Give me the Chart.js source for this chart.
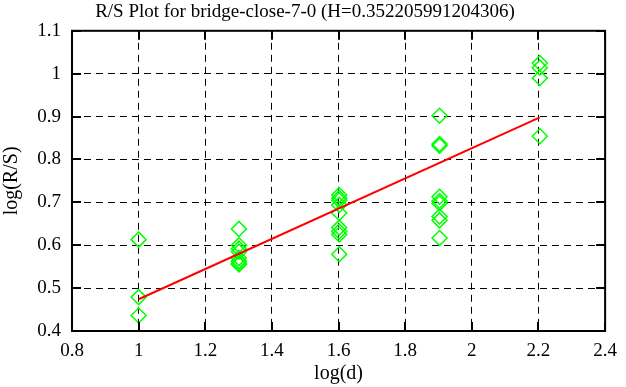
<!DOCTYPE html>
<html>
<head>
<meta charset="utf-8">
<script src="https://cdn.jsdelivr.net/npm/chart.js@4/dist/chart.umd.min.js"></script>
<style>
  html, body { margin: 0; padding: 0; background: #ffffff; }
  #c { display: block; }
</style>
</head>
<body>
<canvas id="c" width="626" height="387"></canvas>
<script>
// log(d) levels (d = 10, 20, 40, 80, 160)
const logD = [1.0, 1.301, 1.602, 1.903, 2.204];
// log(R/S) observations at each level
const rsAt10  = [0.613, 0.479, 0.436];
const rsAt20  = [0.638, 0.600, 0.592, 0.585, 0.570, 0.563, 0.558, 0.555];
const rsAt40  = [0.717, 0.710, 0.705, 0.694, 0.675, 0.641, 0.632, 0.625, 0.579];
const rsAt80  = [0.902, 0.836, 0.832, 0.713, 0.703, 0.698, 0.667, 0.658, 0.617];
const rsAt160 = [1.025, 1.014, 0.990, 0.854];
// fitted line endpoints (H = 0.352205991204306)
const fitX = [1.0, 2.204];
const fitY = [0.474, 0.898];
// tick labels
const xTicks = ['0.8', '1', '1.2', '1.4', '1.6', '1.8', '2', '2.2', '2.4'];
const yTicks = ['0.4', '0.5', '0.6', '0.7', '0.8', '0.9', '1', '1.1'];

const groups = [rsAt10, rsAt20, rsAt40, rsAt80, rsAt160];
const points = [];
groups.forEach((g, i) => g.forEach(v => points.push({ x: logD[i], y: v })));
const fitPts = fitX.map((x, i) => ({ x: x, y: fitY[i] }));

const FONT = '"Liberation Serif", "Times New Roman", serif';

const framePlugin = {
  id: 'frame',
  afterDraw(chart) {
    const ctx = chart.ctx;
    const a = chart.chartArea;
    const xs = chart.scales.x, ys = chart.scales.y;
    ctx.save();
    ctx.strokeStyle = '#000';
    ctx.lineWidth = 2;
    ctx.setLineDash([]);
    const tl = 9;
    ctx.beginPath();
    xs.ticks.forEach(t => {
      const px = Math.round(xs.getPixelForValue(t.value));
      ctx.moveTo(px, a.bottom); ctx.lineTo(px, a.bottom - tl);
      ctx.moveTo(px, a.top); ctx.lineTo(px, a.top + tl);
    });
    ys.ticks.forEach(t => {
      const py = Math.round(ys.getPixelForValue(t.value));
      ctx.moveTo(a.left, py); ctx.lineTo(a.left + tl, py);
      ctx.moveTo(a.right, py); ctx.lineTo(a.right - tl, py);
    });
    ctx.stroke();
    ctx.strokeRect(a.left, a.top, a.right - a.left, a.bottom - a.top);
    ctx.restore();
  }
};

new Chart(document.getElementById('c'), {
  type: 'scatter',
  data: {
    datasets: [
      {
        label: 'R/S',
        data: points,
        showLine: false,
        pointStyle: 'rectRot',
        pointRadius: 7.5,
        pointHoverRadius: 7.5,
        borderColor: '#00ff00',
        backgroundColor: 'rgba(0,0,0,0)',
        pointBorderWidth: 1.5,
        order: 2
      },
      {
        label: 'fit',
        type: 'line',
        data: fitPts,
        borderColor: '#ff0000',
        borderWidth: 2,
        pointRadius: 0,
        fill: false,
        order: 1
      }
    ]
  },
  options: {
    responsive: false,
    animation: false,
    devicePixelRatio: 1,
    layout: { padding: { left: 0, right: 16, top: 0, bottom: 0 } },
    plugins: {
      legend: { display: false },
      tooltip: { enabled: false },
      title: {
        display: true,
        text: 'R/S Plot for bridge-close-7-0 (H=0.352205991204306)',
        color: '#000',
        font: { family: FONT, size: 19, weight: 'normal', lineHeight: 1.2 },
        padding: { top: 1, bottom: 7 }
      }
    },
    scales: {
      x: {
        type: 'linear',
        min: 0.8, max: 2.4,
        afterFit(s) { s.height = 56; },
        ticks: {
          stepSize: 0.2,
          color: '#000',
          padding: 9,
          maxRotation: 0,
          font: { family: FONT, size: 19 },
          callback: (v, i) => xTicks[i]
        },
        grid: { color: '#000', lineWidth: 1, drawTicks: false },
        border: { display: false, dash: [7, 5] },
        title: {
          display: true, text: 'log(d)', color: '#000',
          font: { family: FONT, size: 20 },
          padding: { top: 0, bottom: 1 }
        }
      },
      y: {
        type: 'linear',
        min: 0.4, max: 1.1,
        afterFit(s) { s.width = 72; },
        ticks: {
          stepSize: 0.1,
          color: '#000',
          padding: 11,
          font: { family: FONT, size: 19 },
          callback: (v, i) => yTicks[i]
        },
        grid: { color: '#000', lineWidth: 1, drawTicks: false },
        border: { display: false, dash: [7, 5] },
        title: {
          display: true, text: 'log(R/S)', color: '#000',
          font: { family: FONT, size: 20 },
          padding: { top: 0, bottom: 0 }
        }
      }
    }
  },
  plugins: [framePlugin, {
    id: 'bg',
    beforeDraw(chart) {
      const ctx = chart.ctx;
      ctx.save();
      ctx.fillStyle = '#fff';
      ctx.fillRect(0, 0, chart.width, chart.height);
      ctx.restore();
    }
  }]
});
</script>
</body>
</html>
